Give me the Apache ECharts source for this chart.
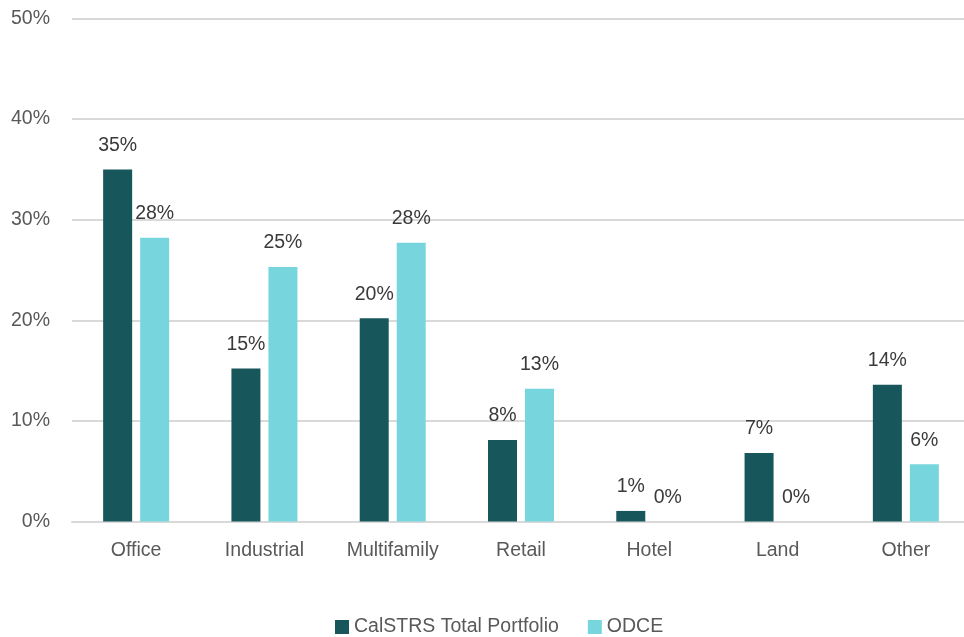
<!DOCTYPE html>
<html>
<head>
<meta charset="utf-8">
<script src="https://cdn.jsdelivr.net/npm/echarts@6/dist/echarts.min.js"></script>
<style>
html,body{margin:0;padding:0;background:#fff;overflow:hidden;}
#chart{width:980px;height:637px;}
</style>
</head>
<body>
<div id="chart"></div>
<script>
const categories = ['Office', 'Industrial', 'Multifamily', 'Retail', 'Hotel', 'Land', 'Other'];
const seriesNames = ['CalSTRS Total Portfolio', 'ODCE'];
const calstrs = [35.0, 15.2, 20.2, 8.1, 1.05, 6.8, 13.6];
const odce = [28.2, 25.3, 27.7, 13.2, 0, 0, 5.7];
const yTicks = { min: 0, max: 50, interval: 10 };

const FONT = "'Liberation Sans', Arial, sans-serif";
const chart = echarts.init(document.getElementById('chart'));
const labelCfg = {
  show: true,
  position: 'top',
  distance: 14,
  color: '#3a3a3a',
  fontFamily: FONT,
  fontSize: 19.5,
  formatter: p => Math.round(p.value) + '%'
};
chart.setOption({
  animation: false,
  backgroundColor: '#ffffff',
  grid: { left: 72, top: 18.5, height: 503, width: 898 },
  legend: {
    data: seriesNames,
    left: 335,
    top: 617,
    padding: 0,
    icon: 'rect',
    itemWidth: 14,
    itemHeight: 14,
    itemGap: 29,
    textStyle: { color: '#595959', fontSize: 19.5, fontFamily: FONT }
  },
  xAxis: {
    type: 'category',
    data: categories,
    axisTick: { show: false },
    axisLine: { lineStyle: { color: '#d9d9d9', width: 2 } },
    axisLabel: { color: '#595959', fontSize: 19.5, fontFamily: FONT, margin: 19, interval: 0 }
  },
  yAxis: {
    type: 'value',
    min: yTicks.min,
    max: yTicks.max,
    interval: yTicks.interval,
    axisLine: { show: false },
    axisTick: { show: false },
    splitLine: { lineStyle: { color: '#d9d9d9', width: 2 } },
    axisLabel: { color: '#595959', fontSize: 19.5, fontFamily: FONT, margin: 22, formatter: '{value}%' }
  },
  series: [
    { name: seriesNames[0], type: 'bar', data: calstrs, barWidth: 29, barGap: '27.6%', itemStyle: { color: '#17565B' }, label: labelCfg },
    { name: seriesNames[1], type: 'bar', data: odce, barWidth: 29, itemStyle: { color: '#77D5DE' }, label: labelCfg }
  ]
});
</script>
</body>
</html>
